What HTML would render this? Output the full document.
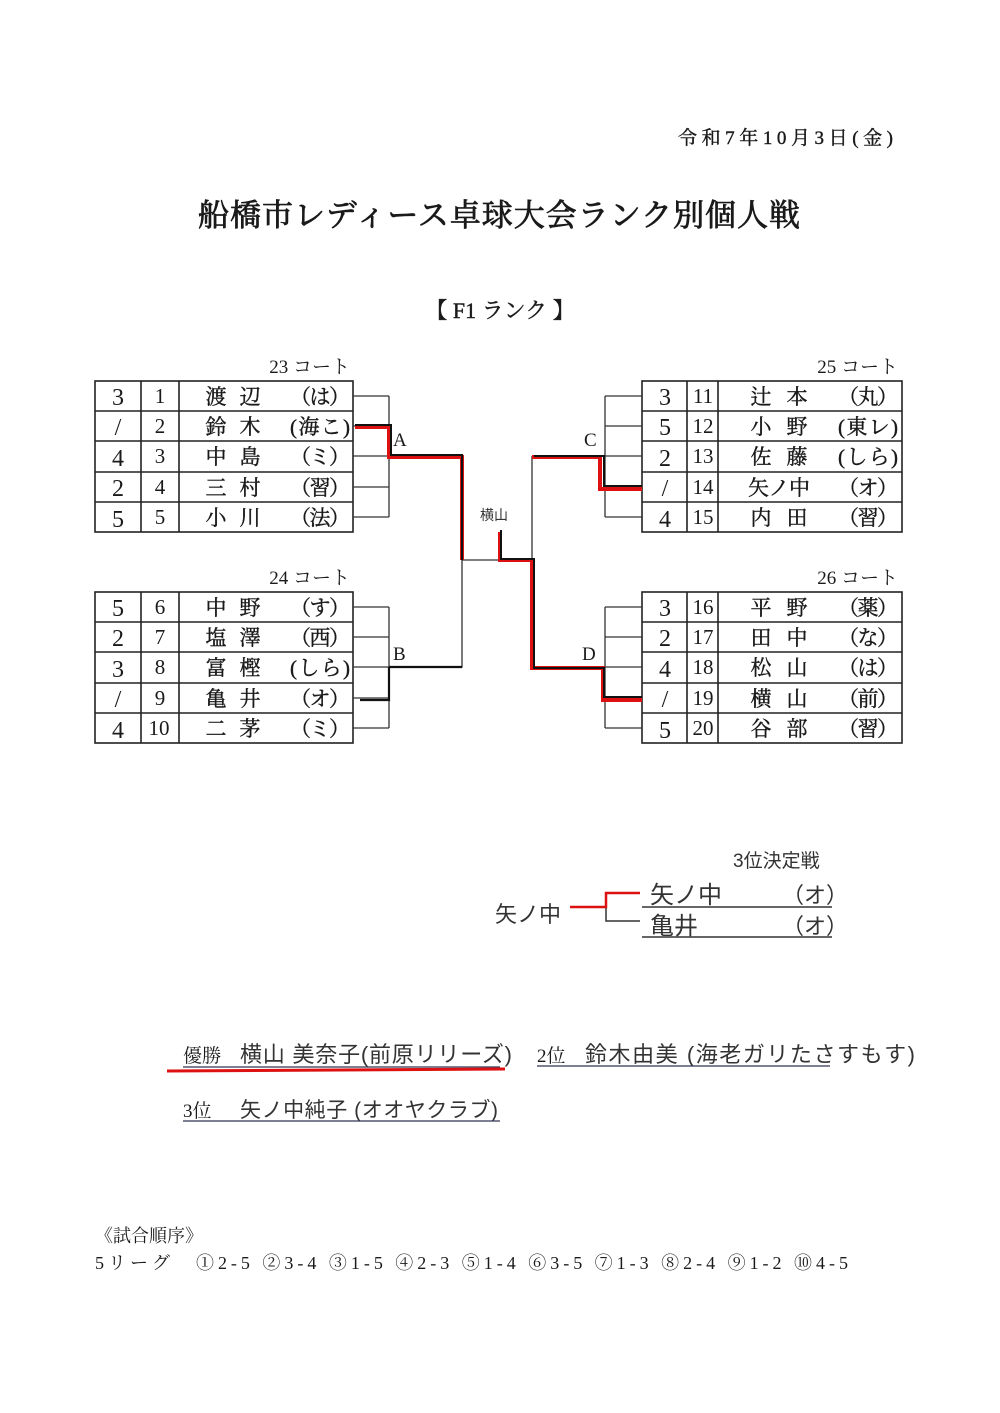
<!DOCTYPE html>
<html><head><meta charset="utf-8">
<style>
html,body{margin:0;padding:0;background:#fff;}
svg{display:block;}
text{font-family:"Liberation Serif","Noto Serif CJK JP",serif;fill:#1a1a1a;}
.h{font-family:"Liberation Sans","Noto Sans CJK JP",sans-serif;fill:#333;}
.b{stroke:#1a1a1a;stroke-width:0.4;}
</style></head>
<body>
<svg width="1000" height="1413" viewBox="0 0 1000 1413" xmlns="http://www.w3.org/2000/svg">
<rect width="1000" height="1413" fill="#fff"/>
<text x="893" y="144" font-size="19" text-anchor="end" textLength="215" class="b">令和7年10月3日(金)</text>
<text x="198" y="226" font-size="31" textLength="602" class="b" style="stroke-width:0.8">船橋市レディース卓球大会ランク別個人戦</text>
<text x="500" y="318" font-size="22" text-anchor="middle" class="b">【 F1 ランク 】</text>

<text x="350" y="373" font-size="19" text-anchor="end">23 コート</text>
<text x="350" y="584" font-size="19" text-anchor="end">24 コート</text>
<text x="898" y="373" font-size="19" text-anchor="end">25 コート</text>
<text x="898" y="584" font-size="19" text-anchor="end">26 コート</text>

<g stroke="#222" stroke-width="1.6" fill="none">
<rect x="95" y="381" width="258" height="151"/>
<line x1="95" y1="411" x2="353" y2="411"/><line x1="95" y1="441" x2="353" y2="441"/><line x1="95" y1="472" x2="353" y2="472"/><line x1="95" y1="502" x2="353" y2="502"/>
<line x1="141" y1="381" x2="141" y2="532"/><line x1="179" y1="381" x2="179" y2="532"/>
<rect x="95" y="592" width="258" height="151"/>
<line x1="95" y1="622" x2="353" y2="622"/><line x1="95" y1="652" x2="353" y2="652"/><line x1="95" y1="683" x2="353" y2="683"/><line x1="95" y1="713" x2="353" y2="713"/>
<line x1="141" y1="592" x2="141" y2="743"/><line x1="179" y1="592" x2="179" y2="743"/>
<rect x="642" y="381" width="260" height="151"/>
<line x1="642" y1="411" x2="902" y2="411"/><line x1="642" y1="441" x2="902" y2="441"/><line x1="642" y1="472" x2="902" y2="472"/><line x1="642" y1="502" x2="902" y2="502"/>
<line x1="687" y1="381" x2="687" y2="532"/><line x1="718" y1="381" x2="718" y2="532"/>
<rect x="642" y="592" width="260" height="151"/>
<line x1="642" y1="622" x2="902" y2="622"/><line x1="642" y1="652" x2="902" y2="652"/><line x1="642" y1="683" x2="902" y2="683"/><line x1="642" y1="713" x2="902" y2="713"/>
<line x1="687" y1="592" x2="687" y2="743"/><line x1="718" y1="592" x2="718" y2="743"/>
</g>

<g stroke="#333" stroke-width="1.3" fill="none">
<path d="M353 396H389M353 426H389M353 456H389M353 487H389M353 517H389M389 396V517"/>
<path d="M353 607H389M353 637H389M353 667H389M353 698H389M353 728H389M389 607V728"/>
<path d="M462 560V667H389M462 560H532"/>
<path d="M532 456V668"/>
<path d="M642 396H605M642 426H605M642 456H605M642 487H605M642 517H605M605 396V517"/>
<path d="M642 607H605M642 637H605M642 667H605M642 698H605M642 728H605M605 607V728"/>
<path d="M532 456H605M532 668H605"/>
</g>

<g fill="none" stroke-linejoin="miter">
<path d="M355 427H389V457H462V560" stroke="#d11" stroke-width="4"/>
<path d="M355 425H391V455H462V560" stroke="#111" stroke-width="2"/>
<path d="M389 667H462" stroke="#111" stroke-width="2.2"/>
<path d="M360 700H389V667" stroke="#111" stroke-width="2.2"/>
<path d="M500 532V560H532V668H603V700H642" stroke="#d11" stroke-width="4"/>
<path d="M501 530V559H534V668H604V697H642" stroke="#111" stroke-width="2"/>
<path d="M532 457H600V489H642" stroke="#d11" stroke-width="4"/>
<path d="M534 456H604V486H642" stroke="#111" stroke-width="2"/>
</g>

<text x="393" y="446" font-size="19">A</text>
<text x="393" y="660" font-size="19">B</text>
<text x="584" y="446" font-size="19">C</text>
<text x="582" y="660" font-size="19">D</text>
<text x="480" y="520" font-size="14" class="h">横山</text>

<g font-size="20">
<g font-size="24" style="font-family:'DejaVu Sans',sans-serif;font-weight:300" fill="#333">
<text x="118" y="405" text-anchor="middle">3</text>
<text x="118" y="435" text-anchor="middle">/</text>
<text x="118" y="466" text-anchor="middle">4</text>
<text x="118" y="496" text-anchor="middle">2</text>
<text x="118" y="527" text-anchor="middle">5</text>
<text x="118" y="616" text-anchor="middle">5</text>
<text x="118" y="646" text-anchor="middle">2</text>
<text x="118" y="677" text-anchor="middle">3</text>
<text x="118" y="707" text-anchor="middle">/</text>
<text x="118" y="738" text-anchor="middle">4</text>
<text x="665" y="405" text-anchor="middle">3</text>
<text x="665" y="435" text-anchor="middle">5</text>
<text x="665" y="466" text-anchor="middle">2</text>
<text x="665" y="496" text-anchor="middle">/</text>
<text x="665" y="527" text-anchor="middle">4</text>
<text x="665" y="616" text-anchor="middle">3</text>
<text x="665" y="646" text-anchor="middle">2</text>
<text x="665" y="677" text-anchor="middle">4</text>
<text x="665" y="707" text-anchor="middle">/</text>
<text x="665" y="738" text-anchor="middle">5</text>
</g>
<g text-anchor="middle" font-size="21">
<text x="160" y="403">1</text><text x="160" y="433">2</text><text x="160" y="463">3</text><text x="160" y="494">4</text><text x="160" y="524">5</text>
<text x="160" y="614">6</text><text x="160" y="644">7</text><text x="160" y="674">8</text><text x="160" y="705">9</text><text x="159" y="735">10</text>
<text x="703" y="403">11</text><text x="703" y="433">12</text><text x="703" y="463">13</text><text x="703" y="494">14</text><text x="703" y="524">15</text>
<text x="703" y="614">16</text><text x="703" y="644">17</text><text x="703" y="674">18</text><text x="703" y="705">19</text><text x="703" y="735">20</text>
</g>
<g text-anchor="middle" font-size="21" class="b">
<text x="216" y="404">渡</text><text x="250" y="404">辺</text><text x="320" y="404" textLength="60">（は）</text>
<text x="216" y="434">鈴</text><text x="250" y="434">木</text><text x="320" y="434" textLength="60">(海こ)</text>
<text x="216" y="464">中</text><text x="250" y="464">島</text><text x="320" y="464" textLength="60">（ミ）</text>
<text x="216" y="495">三</text><text x="250" y="495">村</text><text x="320" y="495" textLength="60">（習）</text>
<text x="216" y="525">小</text><text x="250" y="525">川</text><text x="320" y="525" textLength="60">（法）</text>
<text x="216" y="615">中</text><text x="250" y="615">野</text><text x="320" y="615" textLength="60">（す）</text>
<text x="216" y="645">塩</text><text x="250" y="645">澤</text><text x="320" y="645" textLength="60">（西）</text>
<text x="216" y="675">富</text><text x="250" y="675">樫</text><text x="320" y="675" textLength="60">(しら)</text>
<text x="216" y="706">亀</text><text x="250" y="706">井</text><text x="320" y="706" textLength="60">（オ）</text>
<text x="216" y="736">二</text><text x="250" y="736">茅</text><text x="320" y="736" textLength="60">（ミ）</text>

<text x="761" y="404">辻</text><text x="797" y="404">本</text><text x="868" y="404" textLength="60">（丸）</text>
<text x="761" y="434">小</text><text x="797" y="434">野</text><text x="868" y="434" textLength="60">(東レ)</text>
<text x="761" y="464">佐</text><text x="797" y="464">藤</text><text x="868" y="464" textLength="60">(しら)</text>
<text x="779" y="495" textLength="62">矢ノ中</text><text x="868" y="495" textLength="60">（オ）</text>
<text x="761" y="525">内</text><text x="797" y="525">田</text><text x="868" y="525" textLength="60">（習）</text>
<text x="761" y="615">平</text><text x="797" y="615">野</text><text x="868" y="615" textLength="60">（薬）</text>
<text x="761" y="645">田</text><text x="797" y="645">中</text><text x="868" y="645" textLength="60">（な）</text>
<text x="761" y="675">松</text><text x="797" y="675">山</text><text x="868" y="675" textLength="60">（は）</text>
<text x="761" y="706">横</text><text x="797" y="706">山</text><text x="868" y="706" textLength="60">（前）</text>
<text x="761" y="736">谷</text><text x="797" y="736">部</text><text x="868" y="736" textLength="60">（習）</text>
</g>
</g>

<text x="733" y="867" font-size="19" class="h" fill="#222">3位決定戦</text>
<g fill="none">
<path d="M606 893H640M606 893V921H640" stroke="#333" stroke-width="1.5"/>
<path d="M570 907H606V893H640" stroke="#d11" stroke-width="2.5"/>
<path d="M642 907H832M642 937H832" stroke="#333" stroke-width="1.5"/>
</g>
<text x="495" y="922" font-size="22" class="h">矢ノ中</text>
<text x="650" y="903" font-size="24" class="h">矢ノ中</text>
<text x="782" y="903" font-size="22" class="h">（オ）</text>
<text x="650" y="934" font-size="24" class="h">亀井</text>
<text x="782" y="934" font-size="22" class="h">（オ）</text>

<text x="183" y="1062" font-size="19">優勝</text>
<text x="240" y="1062" font-size="22" class="h" textLength="272">横山 美奈子(前原リリーズ)</text>
<line x1="183" y1="1067" x2="500" y2="1067" stroke="#335" stroke-width="1.2"/>
<line x1="167" y1="1071" x2="505" y2="1069" stroke="#d11" stroke-width="3"/>
<text x="537" y="1062" font-size="19">2位</text>
<text x="585" y="1062" font-size="22" class="h" textLength="330">鈴木由美 (海老ガリたさすもす)</text>
<line x1="537" y1="1066" x2="830" y2="1066" stroke="#335" stroke-width="1.2"/>
<text x="183" y="1117" font-size="19">3位</text>
<text x="240" y="1117" font-size="21" class="h" textLength="258">矢ノ中純子 (オオヤクラブ)</text>
<line x1="183" y1="1121" x2="500" y2="1121" stroke="#335" stroke-width="1.2"/>

<text x="95" y="1242" font-size="18">《試合順序》</text>
<text x="95" y="1269" font-size="18" textLength="753">5リーグ　①2-5 ②3-4 ③1-5 ④2-3 ⑤1-4 ⑥3-5 ⑦1-3 ⑧2-4 ⑨1-2 ⑩4-5</text>
</svg>
</body></html>
